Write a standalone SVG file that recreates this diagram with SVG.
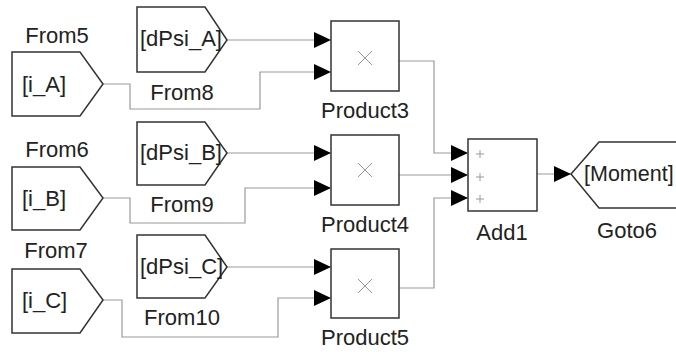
<svg xmlns="http://www.w3.org/2000/svg" width="676" height="352" viewBox="0 0 676 352">
<defs>
<marker id="arr" markerUnits="userSpaceOnUse" markerWidth="17" markerHeight="16" refX="17" refY="8" orient="auto">
<path d="M0,0 L17,8 L0,16 Z" fill="#000"/>
</marker>
<style>
.blk{fill:#fff;stroke:#333;stroke-width:1.5}
.ln{fill:none;stroke:#999;stroke-width:1.2}
.t{font-family:"Liberation Sans",Arial,sans-serif;font-size:22px;fill:#222}
.lbl{font-family:"Liberation Sans",Arial,sans-serif;font-size:22px;fill:#222;text-anchor:middle}
.sym{stroke:#999;stroke-width:1;fill:none}
</style>
</defs>
<rect width="676" height="352" fill="#fff"/>
<g id="connectors">
<path class="ln" marker-end="url(#arr)" d="M227,40 H331"/>
<path class="ln" marker-end="url(#arr)" d="M103,84 H130 V109 H260 V72 H331"/>
<path class="ln" marker-end="url(#arr)" d="M227,153 H331"/>
<path class="ln" marker-end="url(#arr)" d="M103,198 H130 V223 H245 V188 H331"/>
<path class="ln" marker-end="url(#arr)" d="M227,267 H331"/>
<path class="ln" marker-end="url(#arr)" d="M103,300 H122 V337 H278 V298 H331"/>
<path class="ln" marker-end="url(#arr)" d="M399,61 H434 V153 H468"/>
<path class="ln" marker-end="url(#arr)" d="M399,175 H468"/>
<path class="ln" marker-end="url(#arr)" d="M399,288 H434 V198 H468"/>
<path class="ln" marker-end="url(#arr)" d="M537,174 H571"/>
</g>
<g id="From5">
<polygon class="blk" points="12,52 80,52 103,84 80,116 12,116"/>
<text class="t" x="22" y="92">[i_A]</text>
<text class="lbl" x="57" y="43">From5</text>
</g>
<g id="From6">
<polygon class="blk" points="12,167 80,167 103,198 80,230 12,230"/>
<text class="t" x="22" y="206">[i_B]</text>
<text class="lbl" x="57" y="157">From6</text>
</g>
<g id="From7">
<polygon class="blk" points="12,269 80,269 103,300 80,333 12,333"/>
<text class="t" x="22" y="308">[i_C]</text>
<text class="lbl" x="56" y="258">From7</text>
</g>
<g id="From8">
<polygon class="blk" points="137,7 205,7 227,40 205,72 137,72"/>
<text class="t" x="140" y="46">[dPsi_A]</text>
<text class="lbl" x="182" y="100">From8</text>
</g>
<g id="From9">
<polygon class="blk" points="137,122 205,122 227,153 205,185 137,185"/>
<text class="t" x="140" y="160">[dPsi_B]</text>
<text class="lbl" x="182" y="212">From9</text>
</g>
<g id="From10">
<polygon class="blk" points="137,235 205,235 227,267 205,298 137,298"/>
<text class="t" x="140" y="274">[dPsi_C]</text>
<text class="lbl" x="182" y="325">From10</text>
</g>
<g id="Product3">
<rect class="blk" x="331" y="21" width="68" height="70"/>
<path class="sym" d="M358,51 L372,65 M372,51 L358,65"/>
<text class="lbl" x="365" y="118">Product3</text>
</g>
<g id="Product4">
<rect class="blk" x="331" y="135" width="68" height="70"/>
<path class="sym" d="M358,163 L372,177 M372,163 L358,177"/>
<text class="lbl" x="365" y="232">Product4</text>
</g>
<g id="Product5">
<rect class="blk" x="331" y="249" width="68" height="69"/>
<path class="sym" d="M358,279 L372,293 M372,279 L358,293"/>
<text class="lbl" x="365" y="345">Product5</text>
</g>
<g id="Add1">
<rect class="blk" x="468" y="139" width="69" height="72"/>
<path class="sym" d="M476,154 H484 M480,150 V158 M476,177 H484 M480,173 V181 M476,199 H484 M480,195 V203"/>
<text class="lbl" x="502" y="240">Add1</text>
</g>
<g id="Goto6">
<polygon class="blk" points="571,174 599,142 690,142 690,208 599,208"/>
<text class="t" x="584" y="181" style="font-size:21.5px">[Moment]</text>
<text class="lbl" x="627" y="238">Goto6</text>
</g>
</svg>
